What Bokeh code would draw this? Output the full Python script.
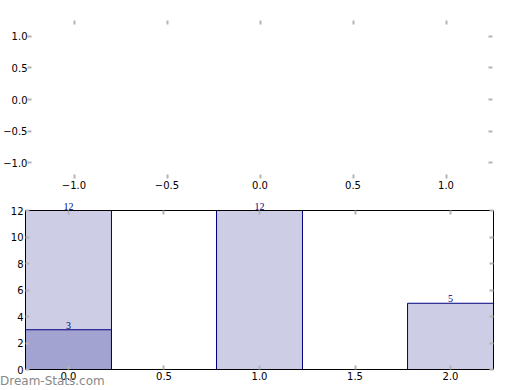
from bokeh.plotting import figure
from bokeh.layouts import column, row
from bokeh.models import (FixedTicker, ColumnDataSource, LabelSet, Range1d,
                          LinearAxis, Div)
from bokeh.embed import file_html
from bokeh.resources import INLINE

# ---- data ----
top_xticks = [-1.0, -0.5, 0.0, 0.5, 1.0]
top_xlabels = ["\u22121.0", "\u22120.5", "0.0", "0.5", "1.0"]
top_yticks = [-1.0, -0.5, 0.0, 0.5, 1.0]
top_ylabels = ["\u22121.0", "\u22120.5", "0.0", "0.5", "1.0"]

bar_x = [0, 1, 2]
bar_total = [12, 12, 5]
part_x = [0]
part_vals = [3]
bar_xticks = [0.0, 0.5, 1.0, 1.5, 2.0]
bar_xlabels = ["0.0", "0.5", "1.0", "1.5", "2.0"]
bar_yticks = [0, 2, 4, 6, 8, 10, 12]
bar_ylabels = ["0", "2", "4", "6", "8", "10", "12"]
watermark = "Dream-Stats.com"

FONT = "DejaVu Sans"
TICK_COLOR = "#b4b4b4"
NAVY = "#000080"


def style_axis(ax, ticks, labels, show=True, standoff=2):
    ax.ticker = FixedTicker(ticks=ticks)
    ax.minor_tick_line_color = None
    ax.major_tick_in = 4
    ax.major_tick_out = 0
    ax.major_tick_line_color = TICK_COLOR
    ax.major_tick_line_width = 2
    ax.axis_line_color = None
    ax.major_label_text_font = FONT
    ax.major_label_text_font_size = "10px"
    if show:
        ax.major_label_overrides = dict(zip(ticks, labels))
        ax.major_label_text_color = "black"
        ax.major_label_standoff = standoff
    else:
        ax.major_label_overrides = {t: "" for t in ticks}
        ax.major_label_text_color = None
        ax.major_label_standoff = 0


# ---- top (empty) axes ----
p1 = figure(width=500, height=200, output_backend="svg",
            toolbar_location=None, x_range=Range1d(-1.25, 1.25),
            y_range=Range1d(-1.25, 1.25), min_border_left=25,
            min_border_right=8, min_border_top=20, min_border_bottom=22,
            x_axis_location=None, y_axis_location=None)
p1.outline_line_color = None
p1.grid.visible = False

for loc, ticks, labs, show in [("below", top_xticks, top_xlabels, True),
                               ("above", top_xticks, top_xlabels, False),
                               ("left", top_yticks, top_ylabels, True),
                               ("right", top_yticks, top_ylabels, False)]:
    ax = LinearAxis()
    style_axis(ax, ticks, labs, show, standoff=0 if loc == "left" else 2)
    p1.add_layout(ax, loc)

# ---- bottom bar chart ----
ymax = max(bar_total)
frame_px = 159.0   # pixel height of the 0..ymax box
head_px = 10.0     # room above the box for value labels
p2 = figure(width=500, height=190, output_backend="svg",
            toolbar_location=None, x_range=Range1d(-0.225, 2.225),
            y_range=Range1d(0, ymax * (frame_px + head_px) / frame_px),
            min_border_left=25, min_border_right=7, min_border_top=0,
            min_border_bottom=21,
            x_axis_location=None, y_axis_location=None)
p2.outline_line_color = None
p2.grid.visible = False

for loc, ticks, labs, show in [("below", bar_xticks, bar_xlabels, True),
                               ("above", bar_xticks, bar_xlabels, False),
                               ("left", bar_yticks, bar_ylabels, True),
                               ("right", bar_yticks, bar_ylabels, False)]:
    ax = LinearAxis()
    style_axis(ax, ticks, labs, show)
    ax.axis_line_color = "black"
    ax.axis_line_width = 1
    if loc in ("left", "right"):
        ax.bounds = (0, ymax)
    if loc == "above":
        ax.fixed_location = ymax
    p2.add_layout(ax, loc)

p2.vbar(x=bar_x, top=bar_total, width=0.45, bottom=0,
        fill_color="#cdcde5", line_color=NAVY, line_width=1)
p2.vbar(x=part_x, top=part_vals, width=0.45, bottom=0,
        fill_color="#a3a3d1", line_color=NAVY, line_width=1)

src_total = ColumnDataSource(dict(x=bar_x, y=bar_total,
                                  t=[str(v) for v in bar_total]))
src_part = ColumnDataSource(dict(x=part_x, y=part_vals,
                                 t=[str(v) for v in part_vals]))
for src in (src_total, src_part):
    p2.add_layout(LabelSet(x="x", y="y", text="t", source=src,
                           text_align="center", text_baseline="alphabetic",
                           text_font=FONT, text_font_size="10px",
                           text_color=NAVY, y_offset=1, level="overlay"))

wm = Div(text=watermark, width=120, height=14,
         styles={"margin-top": "-16px", "margin-left": "0px",
                 "position": "relative", "z-index": "10",
                 "font-family": "DejaVu Sans", "font-size": "12px",
                 "line-height": "14px", "color": "#888888"})

layout = column(p1, row(p2), wm, spacing=0)
open("out.html", "w").write(file_html(layout, INLINE))
